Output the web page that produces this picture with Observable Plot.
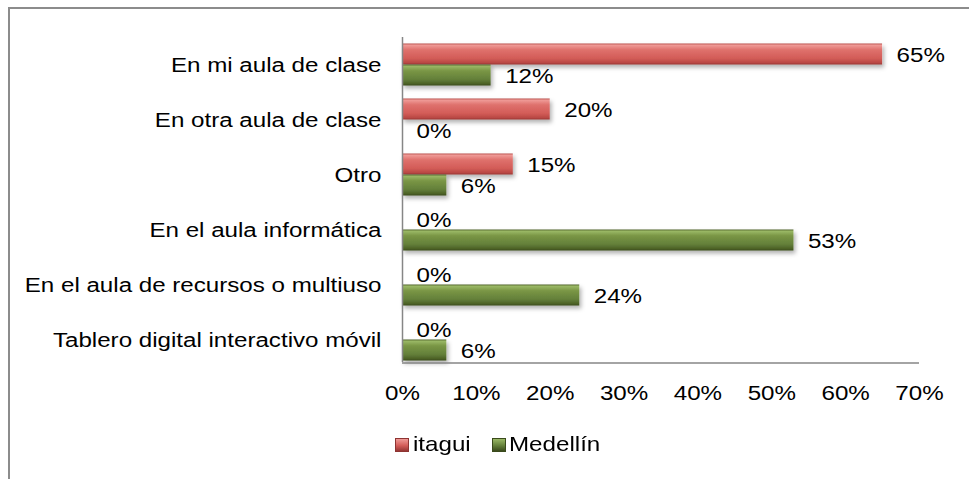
<!DOCTYPE html>
<html>
<head>
<meta charset="utf-8">
<script src="https://cdn.jsdelivr.net/npm/d3@7"></script>
<script src="https://cdn.jsdelivr.net/npm/@observablehq/plot@0.6"></script>
<style>
  html, body { margin: 0; padding: 0; background: #fff; }
  #wrap { position: relative; width: 969px; height: 479px; overflow: hidden; font-family: "Liberation Sans", Arial, sans-serif; }
  #border { position: absolute; left: 8px; top: 7px; width: 980px; height: 500px; border-left: 2px solid #8c8c8c; border-top: 2px solid #8c8c8c; }
  #chart { position: absolute; left: 0; top: 0; }
  .sw { position: absolute; width: 14px; height: 14px; box-sizing: border-box; }
  .lt { position: absolute; font-size: 21px; line-height: 24px; color: #000; white-space: nowrap; transform: scaleX(1.15); transform-origin: left center; }
</style>
</head>
<body>
<div id="wrap">
  <div id="border"></div>
  <div id="chart"></div>
  <div id="legend"></div>
</div>
<script>
const categories = [
  "En mi aula de clase",
  "En otra aula de clase",
  "Otro",
  "En el aula informática",
  "En el aula de recursos o multiuso",
  "Tablero digital interactivo móvil"
];
const seriesNames = ["itagui", "Medellín"];
const itagui = [65, 20, 15, 0, 0, 0];
const medellin = [12, 0, 6, 53, 24, 6];
const xTicks = [0, 10, 20, 30, 40, 50, 60, 70];

const rows = categories.map((c, i) => ({category: c, itagui: itagui[i], medellin: medellin[i]}));
const pct = d => d + "%";

const band = 55;
const barH = 21;
const gap = (band - 2 * barH) / 2;

const chart = Plot.plot({
  width: 969,
  height: 410,
  marginLeft: 402,
  marginRight: 50,
  marginTop: 36.5,
  marginBottom: 43.5,
  style: { fontFamily: "Liberation Sans, Arial, sans-serif", fontSize: "21px", color: "#000", background: "transparent" },
  x: { domain: [0, 70], ticks: xTicks, tickFormat: pct, tickSize: 0, tickPadding: 18, label: null },
  y: { domain: categories, padding: 0, tickSize: 0, tickPadding: 21, label: null },
  marks: [
    Plot.barX(rows, { x: "itagui", y: "category", fill: "url(#gradRed)", insetTop: gap, insetBottom: band - gap - barH }),
    Plot.barX(rows, { x: "medellin", y: "category", fill: "url(#gradGreen)", insetTop: gap + barH, insetBottom: gap }),
    Plot.ruleX([0], { stroke: "#868686", strokeWidth: 1.5, insetTop: 0.5, insetBottom: 4.5 }),
    Plot.ruleY([categories[categories.length - 1]], { x1: 0, x2: 70, dy: band / 2 - 4.5, stroke: "#868686", strokeWidth: 1.5 }),
    Plot.text(rows, { x: "itagui", y: "category", text: d => pct(d.itagui), dx: 14, dy: -barH / 2 + 0.5, textAnchor: "start", fill: "#000" }),
    Plot.text(rows, { x: "medellin", y: "category", text: d => pct(d.medellin), dx: 14, dy: barH / 2 + 0.5, textAnchor: "start", fill: "#000" })
  ]
});

const defs = document.createElementNS("http://www.w3.org/2000/svg", "defs");
defs.innerHTML = `
  <linearGradient id="gradRed" x1="0" y1="0" x2="0" y2="1">
    <stop offset="0" stop-color="#b9504c"/>
    <stop offset="0.08" stop-color="#ef9a96"/>
    <stop offset="0.3" stop-color="#df716d"/>
    <stop offset="0.7" stop-color="#d35c58"/>
    <stop offset="0.92" stop-color="#b94844"/>
    <stop offset="1" stop-color="#963634"/>
  </linearGradient>
  <linearGradient id="gradGreen" x1="0" y1="0" x2="0" y2="1">
    <stop offset="0" stop-color="#4f6228"/>
    <stop offset="0.08" stop-color="#9ab866"/>
    <stop offset="0.3" stop-color="#7a9645"/>
    <stop offset="0.7" stop-color="#64803a"/>
    <stop offset="0.92" stop-color="#4c6126"/>
    <stop offset="1" stop-color="#3a4a1c"/>
  </linearGradient>
  <filter id="shadow" x="-10%" y="-30%" width="120%" height="180%">
    <feDropShadow dx="2" dy="3" stdDeviation="2" flood-color="#000" flood-opacity="0.3"/>
  </filter>`;
chart.insertBefore(defs, chart.firstChild);
chart.querySelectorAll('g[aria-label="bar"]').forEach(g => g.setAttribute("filter", "url(#shadow)"));
document.getElementById("chart").appendChild(chart);

// widen the glyphs horizontally (about their anchor) like the reference rendering
const SX = 1.15;
Array.from(chart.querySelectorAll("text")).forEach(t => {
  const bb = t.getBBox();
  const anchor = getComputedStyle(t).textAnchor;
  let lx = anchor === "end" ? bb.x + bb.width : anchor === "middle" ? bb.x + bb.width / 2 : bb.x;
  const tl = t.transform && t.transform.baseVal && t.transform.baseVal.numberOfItems
    ? t.transform.baseVal.consolidate().matrix : null;
  const px = tl ? tl.a * lx + tl.e : lx;
  const g = document.createElementNS("http://www.w3.org/2000/svg", "g");
  g.setAttribute("transform", `translate(${px},0) scale(${SX},1) translate(${-px},0)`);
  t.parentNode.insertBefore(g, t);
  g.appendChild(t);
});

// legend below the plot
const legend = document.getElementById("legend");
const swatchBg = [
  "linear-gradient(to bottom, #ef9a96, #d35c58 55%, #963634)",
  "linear-gradient(to bottom, #9ab866, #64803a 55%, #3a4a1c)"
];
const swatchX = [395, 492];
const textX = [413, 509];
seriesNames.forEach((name, i) => {
  const sw = document.createElement("div");
  sw.className = "sw";
  sw.style.left = swatchX[i] + "px";
  sw.style.top = "438px";
  sw.style.background = swatchBg[i];
  sw.style.border = "1px solid " + (i === 0 ? "#8e3432" : "#3a4a1c");
  const t = document.createElement("div");
  t.className = "lt";
  t.style.left = textX[i] + "px";
  t.style.top = "432px";
  t.textContent = name;
  legend.appendChild(sw);
  legend.appendChild(t);
});
</script>
</body>
</html>
